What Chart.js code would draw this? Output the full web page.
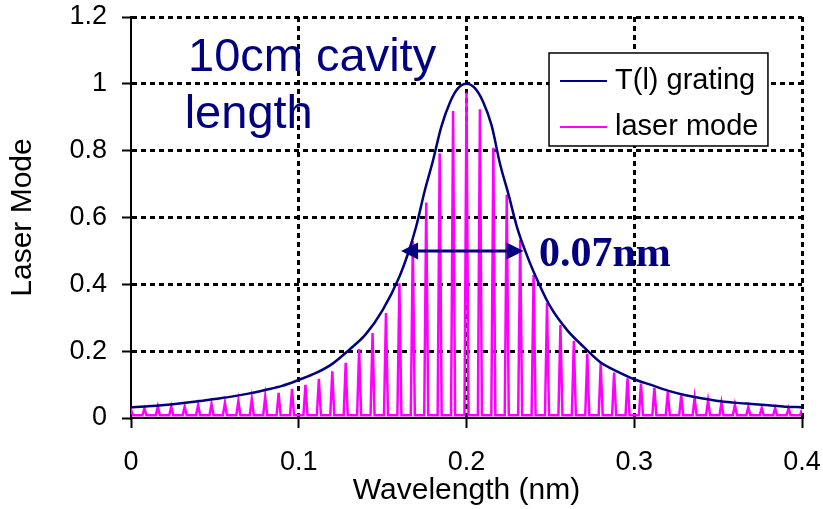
<!DOCTYPE html>
<html>
<head>
<meta charset="utf-8">
<script src="https://cdn.jsdelivr.net/npm/chart.js@4.4.1/dist/chart.umd.min.js"></script>
<style>
  html, body { margin: 0; padding: 0; background: #fff; }
  #wrap { width: 823px; height: 509px; }
</style>
</head>
<body>
<div id="wrap"><canvas id="chart" width="823" height="509"></canvas></div>
<script>
// grating transmission T(l)
const gratingX = [0, 0.01, 0.02, 0.03, 0.04, 0.05, 0.06, 0.07, 0.08, 0.09, 0.1, 0.11, 0.12, 0.13, 0.14, 0.15, 0.16, 0.165, 0.17, 0.175, 0.18, 0.185, 0.19, 0.195, 0.2, 0.205, 0.21, 0.215, 0.22, 0.225, 0.23, 0.235, 0.24, 0.25, 0.26, 0.27, 0.28, 0.29, 0.3, 0.31, 0.32, 0.33, 0.34, 0.35, 0.36, 0.37, 0.38, 0.39, 0.4];
const gratingT = [0.032, 0.035, 0.039, 0.044, 0.05, 0.057, 0.064, 0.073, 0.084, 0.096, 0.114, 0.134, 0.162, 0.204, 0.251, 0.323, 0.423, 0.49, 0.573, 0.678, 0.77, 0.872, 0.943, 0.987, 1.0, 0.987, 0.945, 0.875, 0.76, 0.67, 0.573, 0.5, 0.438, 0.333, 0.263, 0.212, 0.166, 0.139, 0.116, 0.099, 0.082, 0.069, 0.059, 0.051, 0.046, 0.042, 0.038, 0.034, 0.032];

// laser mode peaks: position and height
const modeX = [0, 0.008, 0.016, 0.024, 0.032, 0.04, 0.048, 0.056, 0.064, 0.072, 0.08, 0.088, 0.096, 0.104, 0.112, 0.12, 0.128, 0.136, 0.144, 0.152, 0.16, 0.168, 0.176, 0.184, 0.192, 0.2, 0.208, 0.216, 0.224, 0.232, 0.24, 0.248, 0.256, 0.264, 0.272, 0.28, 0.288, 0.296, 0.304, 0.312, 0.32, 0.328, 0.336, 0.344, 0.352, 0.36, 0.368, 0.376, 0.384, 0.392, 0.4];
const modeH = [0.025, 0.028, 0.034, 0.034, 0.034, 0.039, 0.042, 0.046, 0.051, 0.057, 0.064, 0.075, 0.087, 0.099, 0.117, 0.14, 0.165, 0.206, 0.254, 0.314, 0.403, 0.53, 0.645, 0.792, 0.919, 0.974, 0.924, 0.809, 0.668, 0.533, 0.428, 0.344, 0.278, 0.231, 0.192, 0.164, 0.136, 0.119, 0.103, 0.09, 0.078, 0.068, 0.06, 0.052, 0.046, 0.04, 0.033, 0.03, 0.029, 0.029, 0.025];
const modeFloor = 0.008;
const modeHalfWidth = 0.0012;

const xTicks = [0, 0.1, 0.2, 0.3, 0.4];
const yTicks = [0, 0.2, 0.4, 0.6, 0.8, 1, 1.2];

const fwhmFrom = 0.161;
const fwhmTo = 0.234;
const fwhmLevel = 0.5;
const fwhmLabel = "0.07nm";
const noteLines = ["10cm cavity", "length"];

const NAVY = "#000080";
const MAGENTA = "#ff00ff";
const SANS = "'Liberation Sans', Arial, sans-serif";

const gratingData = gratingX.map((x, i) => ({ x: x, y: gratingT[i] }));
const modeData = [];
modeX.forEach((x, i) => {
  modeData.push({ x: x - modeHalfWidth, y: modeFloor });
  modeData.push({ x: x, y: modeH[i] });
  modeData.push({ x: x + modeHalfWidth, y: modeFloor });
});

function arrowHead(ctx, x, y, dir) {
  ctx.beginPath();
  ctx.moveTo(x, y);
  ctx.lineTo(x - dir * 17, y - 8.5);
  ctx.lineTo(x - dir * 17, y + 8.5);
  ctx.closePath();
  ctx.fill();
}

const extras = {
  id: "extras",
  afterDatasetsDraw(chart) {
    const { ctx } = chart;
    const xs = chart.scales.x;
    const ys = chart.scales.y;
    ctx.save();

    // note text
    ctx.fillStyle = NAVY;
    ctx.font = "47px " + SANS;
    ctx.textBaseline = "alphabetic";
    ctx.textAlign = "left";
    ctx.fillText(noteLines[0], xs.getPixelForValue(0.034), ys.getPixelForValue(1.038));
    ctx.fillText(noteLines[1], xs.getPixelForValue(0.032), ys.getPixelForValue(0.868));

    // FWHM arrow
    const ax1 = xs.getPixelForValue(fwhmFrom);
    const ax2 = xs.getPixelForValue(fwhmTo);
    const ay = ys.getPixelForValue(fwhmLevel);
    ctx.strokeStyle = NAVY;
    ctx.lineWidth = 3;
    ctx.beginPath();
    ctx.moveTo(ax1 + 10, ay);
    ctx.lineTo(ax2 - 10, ay);
    ctx.stroke();
    arrowHead(ctx, ax1, ay, -1);
    arrowHead(ctx, ax2, ay, 1);

    ctx.font = "bold 42px 'Liberation Serif', 'Times New Roman', serif";
    ctx.fillText(fwhmLabel, xs.getPixelForValue(0.2432), ys.getPixelForValue(0.455));

    // legend box
    const lx = xs.getPixelForValue(0.2492);
    const rx = xs.getPixelForValue(0.3797);
    const ty = ys.getPixelForValue(1.0923);
    const by = ys.getPixelForValue(0.814);
    ctx.fillStyle = "#fff";
    ctx.fillRect(lx, ty, rx - lx, by - ty);
    ctx.strokeStyle = "#000";
    ctx.lineWidth = 1.5;
    ctx.strokeRect(lx, ty, rx - lx, by - ty);

    const items = chart.data.datasets.slice().sort((a, b) => a.legendOrder - b.legendOrder);
    ctx.font = "29px " + SANS;
    ctx.textBaseline = "middle";
    items.forEach((ds, i) => {
      const yy = ty + 28 + i * 46;
      ctx.strokeStyle = ds.borderColor;
      ctx.lineWidth = 2;
      ctx.beginPath();
      ctx.moveTo(lx + 11, yy);
      ctx.lineTo(lx + 58, yy);
      ctx.stroke();
      ctx.fillStyle = "#000";
      ctx.fillText(ds.label, lx + 66, yy);
    });
    ctx.restore();
  }
};

const gridColor = (c) => (c.tick && c.tick.value === 0 ? "rgba(0,0,0,0)" : "#000");

new Chart(document.getElementById("chart"), {
  type: "scatter",
  data: {
    datasets: [
      {
        label: "laser mode",
        legendOrder: 1,
        data: modeData,
        showLine: true,
        borderColor: MAGENTA,
        backgroundColor: MAGENTA,
        borderWidth: 2.5,
        pointRadius: 0,
        order: 2
      },
      {
        label: "T(l) grating",
        legendOrder: 0,
        data: gratingData,
        showLine: true,
        borderColor: NAVY,
        backgroundColor: NAVY,
        borderWidth: 2.5,
        pointRadius: 0,
        cubicInterpolationMode: "monotone",
        order: 1
      }
    ]
  },
  options: {
    responsive: false,
    animation: false,
    events: [],
    layout: { padding: { left: 0, top: 17, right: 21, bottom: 0 } },
    plugins: {
      legend: { display: false },
      tooltip: { enabled: false }
    },
    scales: {
      x: {
        type: "linear",
        min: 0,
        max: 0.4,
        afterBuildTicks: (s) => { s.ticks = xTicks.map((v) => ({ value: v })); },
        afterFit: (s) => {
          s.height = 91;
          s.paddingLeft = 0;
          s.paddingRight = 0;
        },
        ticks: {
          color: "#000",
          font: { family: SANS, size: 27 },
          padding: 18,
          maxRotation: 0,
          callback: (v) => String(v)
        },
        grid: {
          color: gridColor,
          lineWidth: 3,
          tickColor: "#000",
          tickWidth: 2,
          tickLength: 10,
          tickBorderDash: []
        },
        border: { display: true, color: "#000", width: 2, dash: [5, 4] },
        title: {
          display: true,
          text: "Wavelength (nm)",
          color: "#000",
          font: { family: SANS, size: 30 },
          padding: { top: 0, bottom: 0 }
        }
      },
      y: {
        type: "linear",
        min: 0,
        max: 1.2,
        afterBuildTicks: (s) => { s.ticks = yTicks.map((v) => ({ value: v })); },
        afterFit: (s) => {
          s.width = 131;
          s.paddingTop = 0;
          s.paddingBottom = 0;
        },
        ticks: {
          color: "#000",
          font: { family: SANS, size: 27 },
          padding: 15,
          callback: (v) => String(v)
        },
        grid: {
          color: gridColor,
          lineWidth: 3,
          tickColor: "#000",
          tickWidth: 2,
          tickLength: 9,
          tickBorderDash: []
        },
        border: { display: true, color: "#000", width: 2, dash: [5, 4] },
        title: {
          display: true,
          text: "Laser Mode",
          color: "#000",
          font: { family: SANS, size: 30 },
          padding: { top: 5, bottom: 0 }
        }
      }
    }
  },
  plugins: [extras]
});
</script>
</body>
</html>
